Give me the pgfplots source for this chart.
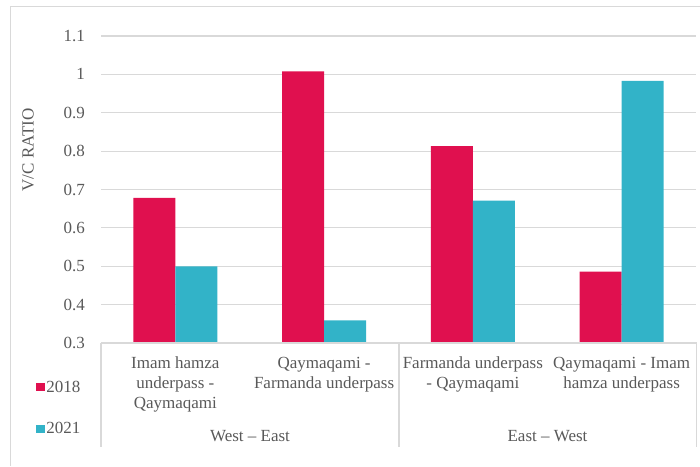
\documentclass[border=0pt]{standalone}
\usepackage{pgfplots}
\pgfplotsset{compat=1.18}
\usepackage{fontspec}
\setmainfont{Liberation Serif}

\definecolor{bar18}{HTML}{E0104F}
\definecolor{bar21}{HTML}{32B3C8}
\definecolor{gridgray}{HTML}{D9D9D9}
\definecolor{txtgray}{HTML}{595959}

\begin{document}
\begin{tikzpicture}[x=1pt,y=1pt,font=\fontsize{17}{20}\selectfont]
\path[use as bounding box] (0,0) rectangle (700,466);
% chart frame
\draw[gridgray, line width=1pt] (10,0) -- (10,459) -- (700,459);

\begin{axis}[
  at={(101pt,123pt)}, anchor=south west,
  scale only axis, width=595pt, height=307pt,
  xmin=-0.5, xmax=3.5, ymin=0.3, ymax=1.1,
  ybar=0pt, bar width=42pt,
  axis line style={draw=none},
  major tick length=0pt,
  ymajorgrids, grid style={gridgray, line width=1.2pt},
  ytick={0.3,0.4,0.5,0.6,0.7,0.8,0.9,1,1.1},
  yticklabels={0.3,0.4,0.5,0.6,0.7,0.8,0.9,1,1.1},
  yticklabel style={text=txtgray, inner sep=0pt, anchor=east, xshift=-16pt,
    font=\fontsize{17}{20}\selectfont},
  xtick={0,1,2,3},
  xticklabels={{Imam hamza\\underpass -\\Qaymaqami},
               {Qaymaqami -\\Farmanda underpass},
               {Farmanda underpass\\- Qaymaqami},
               {Qaymaqami - Imam\\hamza underpass}},
  xticklabel style={text=txtgray, align=center, anchor=north, inner sep=0pt,
    yshift=-14pt, font=\fontsize{17}{20}\selectfont},
  legend style={draw=none, fill=none, at={(-0.114,-0.111)}, anchor=north west,
    row sep=26pt, font=\fontsize{17}{20}\selectfont, text=txtgray,
    nodes={inner sep=1.5pt}},
  legend cell align=left,
  legend image code/.code={\path[#1,draw=none] (0pt,-4.25pt) rectangle (8.5pt,4.25pt);},
]
\addplot[fill=bar18, draw=none] coordinates {(0,0.678) (1,1.008) (2,0.813) (3,0.486)};
\addplot[fill=bar21, draw=none] coordinates {(0,0.500) (1,0.359) (2,0.671) (3,0.983)};
\legend{2018,2021}
\end{axis}

% category axis box
\draw[gridgray, line width=1.2pt] (101,123) -- (696.5,123);
\draw[gridgray, line width=1.2pt] (101,123) -- (101,19);
\draw[gridgray, line width=1.2pt] (399,123) -- (399,19);
\draw[gridgray, line width=1.2pt] (696.5,123) -- (696.5,19);

% group labels
\node[text=txtgray] at (250,30) {West – East};
\node[text=txtgray] at (547.5,30) {East – West};

% value axis title
\node[text=txtgray, rotate=90] at (28,316) {V/C RATIO};
\end{tikzpicture}
\end{document}
